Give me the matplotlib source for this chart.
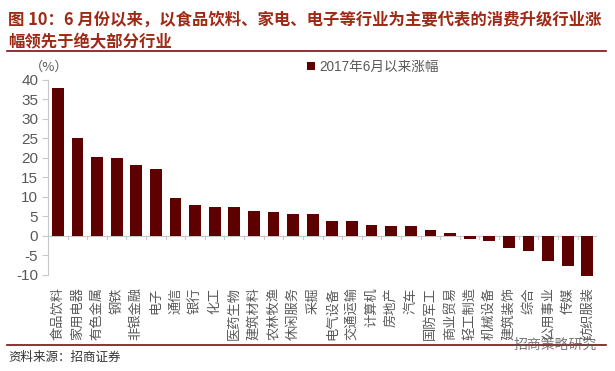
import matplotlib
matplotlib.use("Agg")
import matplotlib.pyplot as plt
import matplotlib.transforms as mtransforms
import numpy as np

plt.rcParams['font.family'] = ['Noto Sans CJK SC', 'DejaVu Sans']

# 行业及 2017年6月以来涨幅 (%)
industries = ['食品饮料', '家用电器', '有色金属', '钢铁', '非银金融', '电子', '通信',
              '银行', '化工', '医药生物', '建筑材料', '农林牧渔', '休闲服务', '采掘',
              '电气设备', '交通运输', '计算机', '房地产', '汽车', '国防军工', '商业贸易',
              '轻工制造', '机械设备', '建筑装饰', '综合', '公用事业', '传媒', '纺织服装']
gains = [37.8, 25.2, 20.3, 20.0, 18.1, 17.2, 9.8, 7.9, 7.4, 7.3, 6.4, 6.0, 5.5, 5.5,
         3.9, 3.7, 2.9, 2.5, 2.5, 1.5, 0.7, -0.9, -1.4, -3.1, -3.9, -6.5, -7.8, -10.3]
yticks = [-10, -5, 0, 5, 10, 15, 20, 25, 30, 35, 40]
series_name = '2017年6月以来涨幅'

bar_color = '#5E0000'
title_color = '#9E2A16'
grey = '#595959'
axis_grey = '#C8C8C8'

fig = plt.figure(figsize=(6.15, 3.71), dpi=100)
ax = fig.add_axes([0.078, 0.259, 0.893, 0.526])

x = np.arange(len(industries))
ax.bar(x, gains, width=0.6, color=bar_color, clip_on=False, zorder=3)

ax.set_xlim(-0.5, len(industries) - 0.5)
ax.set_ylim(-10, 40)
ax.set_yticks(yticks)
ax.set_yticklabels([str(v) for v in yticks], family=['Liberation Sans', 'DejaVu Sans'],
                   fontsize=11, color=grey)
ax.tick_params(axis='y', length=4, color=axis_grey, pad=3)
ax.set_xticks([])
for s in ['top', 'right', 'bottom']:
    ax.spines[s].set_visible(False)
ax.spines['left'].set_color(axis_grey)

# 零轴及分隔刻度
ax.axhline(0, color=axis_grey, lw=0.8, zorder=2)
for b in np.arange(-0.5, len(industries), 1.0):
    ax.plot([b, b], [0, -0.8], color=axis_grey, lw=0.8, zorder=2)

# 旋转的行业名称
trans = mtransforms.blended_transform_factory(ax.transData, ax.transAxes)
for i, name in enumerate(industries):
    ax.text(i, -0.062, name, transform=trans, ha='center', va='top', rotation=90,
            fontsize=9.5, color=grey)

# 单位与图例
fig.text(30 / 615, 1 - 67 / 371, '（%）', fontsize=9.5, color=grey, va='center', ha='left')
ax.bar([0], [0], color=bar_color, label=series_name)
fig.legend(loc='center left', bbox_to_anchor=(302 / 615, 1 - 67 / 371), frameon=False,
           handlelength=0.55, handleheight=0.55, handletextpad=0.3, borderaxespad=0,
           prop={'size': 9.8, 'family': ['Liberation Sans', 'Noto Sans CJK SC']},
           labelcolor=grey)

# 标题
fig.text(8 / 615, 1 - 20 / 371,
         '图 10：6 月份以来，以食品饮料、家电、电子等行业为主要代表的消费升级行业涨',
         fontsize=11.8, fontweight='bold', color=title_color, va='center', ha='left')
fig.text(8 / 615, 1 - 42 / 371, '幅领先于绝大部分行业',
         fontsize=11.8, fontweight='bold', color=title_color, va='center', ha='left')
fig.add_artist(plt.Line2D([7 / 615, 606 / 615], [1 - 51 / 371] * 2, color='#7A1010', lw=1.2))

# 底部来源
fig.add_artist(plt.Line2D([7 / 615, 606 / 615], [1 - 345 / 371] * 2, color='#7A1010', lw=1.2))
fig.text(8 / 615, 1 - 357 / 371, '资料来源：招商证券', fontsize=9, color='#333333',
         va='center', ha='left')
fig.text(597 / 615, 1 - 345 / 371, '招商策略研究', fontsize=10, color='#555555',
         va='center', ha='right', alpha=0.8)

fig.savefig('out.png', dpi=100)
